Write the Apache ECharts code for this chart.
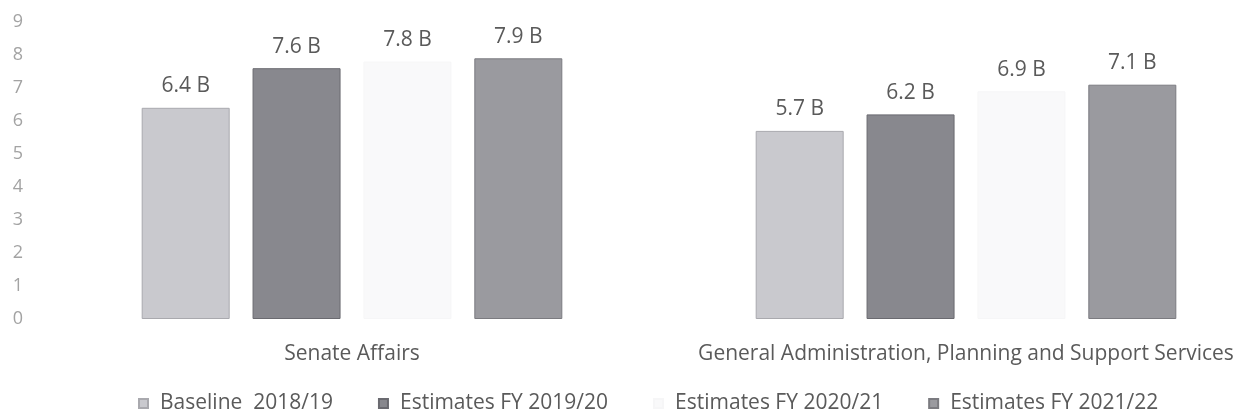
<!DOCTYPE html>
<html>
<head>
<meta charset="utf-8">
<script src="https://cdn.jsdelivr.net/npm/echarts@6/dist/echarts.min.js"></script>
<style>
  html, body { margin: 0; padding: 0; background: #ffffff; }
  #chart { width: 1245px; height: 417px; }
</style>
</head>
<body>
<div id="chart"></div>
<script>
// Budget by programme, in billions
const categories = ['Senate Affairs', 'General Administration, Planning and Support Services'];
const seriesNames = ['Baseline  2018/19', 'Estimates FY 2019/20', 'Estimates FY 2020/21', 'Estimates FY 2021/22'];
const baseline1819 = [6.4, 5.7];
const estimates1920 = [7.6, 6.2];
const estimates2021 = [7.8, 6.9];
const estimates2122 = [7.9, 7.1];
const yTicks = [0, 1, 2, 3, 4, 5, 6, 7, 8, 9];

const seriesValues = [baseline1819, estimates1920, estimates2021, estimates2122];
const barColors = ['#c9c9ce', '#88888e', '#f9f9fa', '#9a9a9f'];
const barBorders = ['#a9a9ae', '#6a6a70', '#f6f6f7', '#7b7b80'];

const font = '"Open Sans", "Noto Sans", sans-serif';
const textColor = '#5a5a5a';

const chart = echarts.init(document.getElementById('chart'), null, { renderer: 'canvas' });

chart.setOption({
  animation: false,
  backgroundColor: '#ffffff',
  // the plot area runs slightly past the right edge of the canvas
  grid: { left: 45, top: 22, width: 1228, bottom: 98, containLabel: false, outerBoundsMode: 'none' },
  legend: {
    left: 133,
    top: 388,
    itemWidth: 9,
    itemHeight: 9,
    itemGap: 45,
    icon: 'rect',
    data: seriesNames,
    textStyle: { fontFamily: font, fontSize: 21, color: textColor, padding: [0, 0, 0, 7] }
  },
  xAxis: {
    type: 'category',
    data: categories,
    axisLine: { show: false },
    axisTick: { show: false },
    axisLabel: { interval: 0, fontFamily: font, fontSize: 21, color: textColor, margin: 25 }
  },
  yAxis: {
    type: 'value',
    min: yTicks[0],
    max: yTicks[yTicks.length - 1],
    interval: 1,
    splitLine: { show: false },
    axisLine: { show: false },
    axisTick: { show: false },
    axisLabel: { fontFamily: font, fontSize: 18, color: '#a3a3a3', margin: 22 }
  },
  series: seriesNames.map((name, i) => ({
    name: name,
    type: 'bar',
    data: seriesValues[i],
    barWidth: 88,
    barGap: '26%',
    itemStyle: { color: barColors[i], borderColor: barBorders[i], borderWidth: 1 },
    label: {
      show: true,
      position: 'top',
      distance: 11,
      fontFamily: font,
      fontSize: 21,
      color: textColor,
      formatter: p => p.value.toFixed(1) + ' B'
    }
  }))
});
</script>
</body>
</html>
